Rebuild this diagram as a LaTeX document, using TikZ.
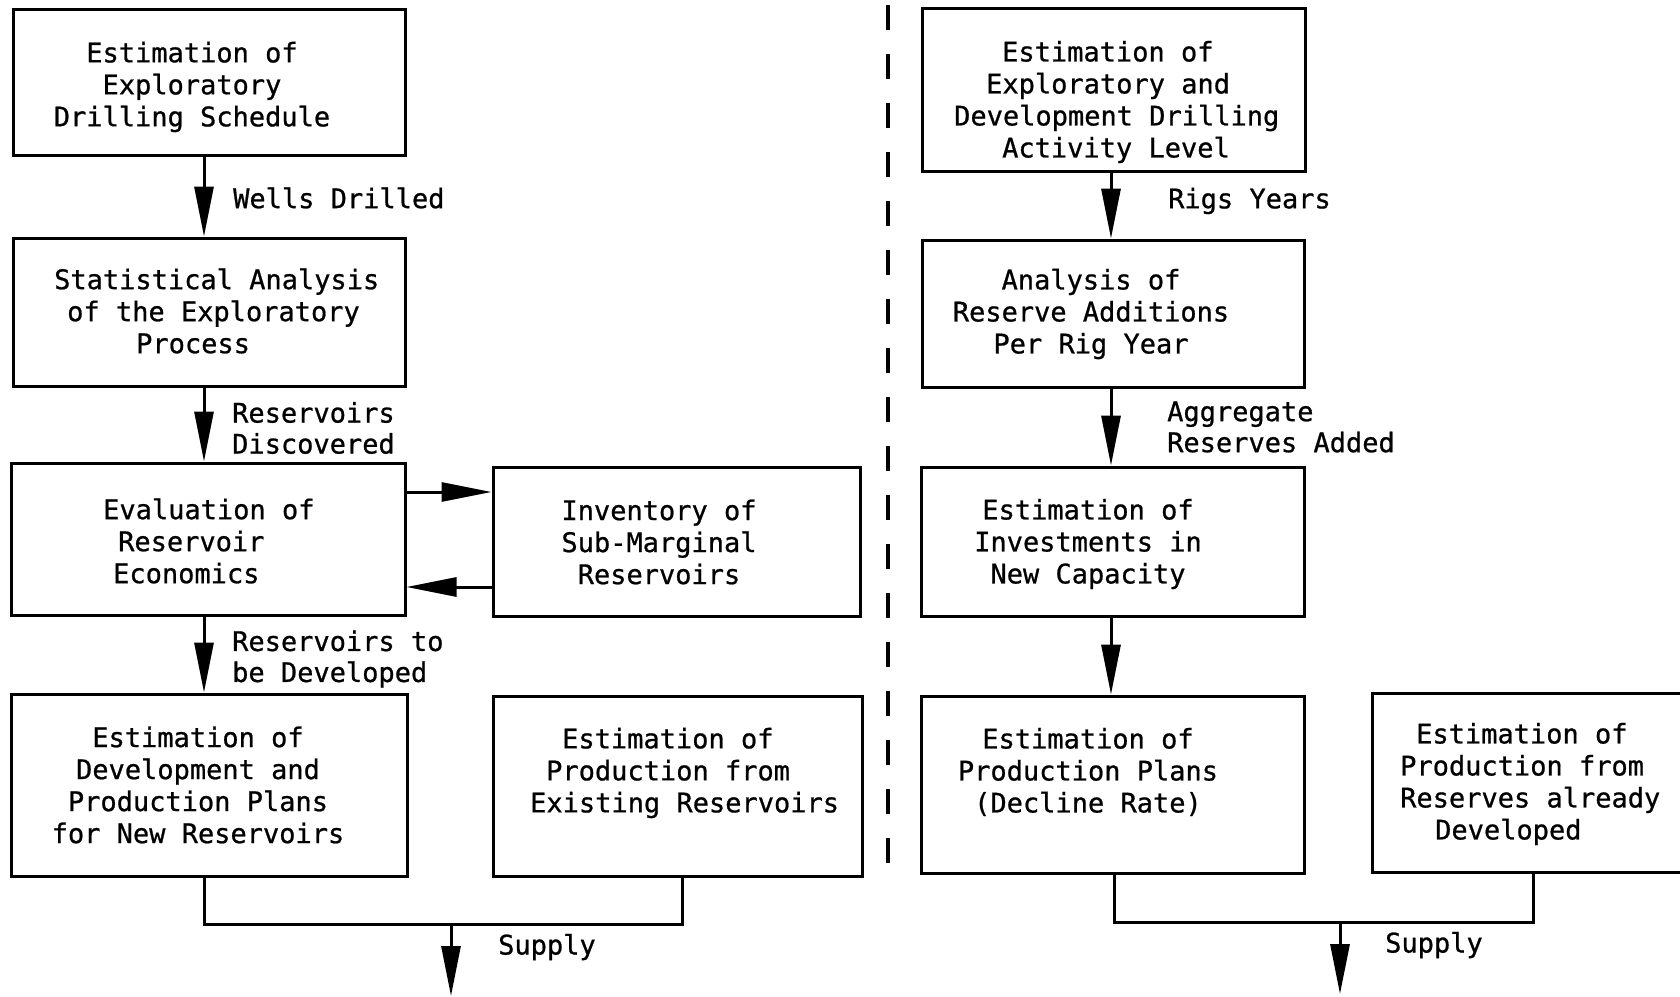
\documentclass[tikz,border=0pt]{standalone}
\usepackage{fontspec}
\newfontfamily\typewriter[FakeBold=0.8]{DejaVu Sans Mono}
\usetikzlibrary{arrows.meta}
\begin{document}
\begin{tikzpicture}[x=1pt,y=-1pt,
  box/.style={draw, line width=3pt, rectangle, inner sep=0pt},
  txt/.style={font=\typewriter\fontsize{27}{32}\selectfont, align=center, inner sep=0pt},
  ltxt/.style={font=\typewriter\fontsize{27}{32}\selectfont, align=left, anchor=west, inner sep=0pt},
  lbl/.style={font=\typewriter\fontsize{27}{31}\selectfont, align=left, anchor=west, inner sep=0pt},
  arr/.style={line width=3pt, -{Triangle[length=50pt,width=19pt]}},
  link/.style={line width=3pt},
  divider/.style={line width=3.5pt, dash pattern=on 25pt off 24pt}]
\useasboundingbox (0,0) rectangle (1680,996);
\clip (0,0) rectangle (1680,996);

% ---- left chain: exploratory drilling model ----
\node[box, minimum width=392pt, minimum height=146pt] (b1) at (209,82) {};
\node[box, minimum width=392pt, minimum height=148pt] (b2) at (209,312) {};
\node[box, minimum width=394pt, minimum height=152pt] (b3) at (208,539) {};
\node[box, minimum width=396pt, minimum height=182pt] (b4) at (209,785) {};
\node[box, minimum width=367pt, minimum height=149pt] (inv) at (676.5,541.5) {};
\node[box, minimum width=369pt, minimum height=180pt] (b5) at (677.5,786) {};

\node[txt] (t1) at (192,87) {Estimation of\\Exploratory\\Drilling Schedule};
\node[ltxt] (t2) at (54,311) {Statistical Analysis\\\hspace*{13pt}of the Exploratory\\\hspace*{82pt}Process};
\node[ltxt] (t3) at (103,541) {Evaluation of\\\hspace*{15pt}Reservoir\\\hspace*{10pt}Economics};
\node[txt] (tinv) at (659,542) {Inventory of\\Sub-Marginal\\Reservoirs};
\node[txt] (t4) at (198,785) {Estimation of\\Development and\\Production Plans\\for New Reservoirs};
\node[ltxt] (t5) at (530,773) {\hspace*{32pt}Estimation of\\\hspace*{16pt}Production from\\Existing Reservoirs};

% ---- right chain: rig activity model ----
\node[box, minimum width=383pt, minimum height=163pt] (r1) at (1113.5,89.5) {};
\node[box, minimum width=382pt, minimum height=147pt] (r2) at (1113,313.5) {};
\node[box, minimum width=383pt, minimum height=149pt] (r3) at (1112.5,541.5) {};
\node[box, minimum width=383pt, minimum height=177pt] (r4) at (1112.5,784.5) {};
\node[box, minimum width=348pt, minimum height=179pt] (r5) at (1546,782.5) {};

\node[ltxt] (tr1) at (954,102) {\hspace*{48pt}Estimation of\\\hspace*{32pt}Exploratory and\\Development Drilling\\\hspace*{48pt}Activity Level};
\node[txt] (tr2) at (1091,314) {Analysis of\\Reserve Additions\\Per Rig Year};
\node[txt] (tr3) at (1088,544) {Estimation of\\Investments in\\New Capacity};
\node[txt] (tr4) at (1088,772) {Estimation of\\Production Plans\\(Decline Rate)};
\node[ltxt] (tr5) at (1400,784) {\hspace*{16pt}Estimation of\\Production from\\Reserves already\\\hspace*{35pt}Developed};

% ---- guide coordinates for connectors ----
\coordinate (xl) at (204,0);
\coordinate (xl5) at (682,0);
\coordinate (ya) at (0,492);
\coordinate (yb) at (0,587);
\coordinate (jl) at (451,924);
\coordinate (outl) at (451,996);
\coordinate (xr) at (1111,0);
\coordinate (xrb) at (1114,0);
\coordinate (xr5) at (1533,0);
\coordinate (jr) at (1340,922);
\coordinate (outr) at (1340,994);
\coordinate (dtop) at (888,5);
\coordinate (dbot) at (888,863);

% ---- left connectors ----
\draw[arr] (xl |- b1.south) -- (xl |- b2.north);
\draw[arr] (xl |- b2.south) -- (xl |- b3.north);
\draw[arr] (xl |- b3.south) -- (xl |- b4.north);
\draw[arr] (b3.east |- ya) -- (inv.west |- ya);
\draw[arr] (inv.west |- yb) -- (b3.east |- yb);
\draw[link] (xl |- b4.south) |- (jl) -| (xl5 |- b5.south);
\draw[arr] (jl) -- (outl);

% ---- right connectors ----
\draw[arr] (xr |- r1.south) -- (xr |- r2.north);
\draw[arr] (xr |- r2.south) -- (xr |- r3.north);
\draw[arr] (xr |- r3.south) -- (xr |- r4.north);
\draw[link] (xrb |- r4.south) |- (jr) -| (xr5 |- r5.south);
\draw[arr] (jr) -- (outr);

% ---- flow labels ----
\node[lbl] (lw) at (233,198) {Wells Drilled};
\node[lbl] (ld) at (232,428) {Reservoirs\\Discovered};
\node[lbl] (lv) at (232,659) {Reservoirs to\\be Developed};
\node[lbl] (ls) at (498,947) {Supply};
\node[lbl] (lr) at (1168,201) {Rigs Years};
\node[lbl] (la) at (1167,427) {Aggregate\\Reserves Added};
\node[lbl] (ls2) at (1385,945) {Supply};

% ---- divider between the two approaches ----
\draw[divider] (dtop) -- (dbot);
\end{tikzpicture}
\end{document}
